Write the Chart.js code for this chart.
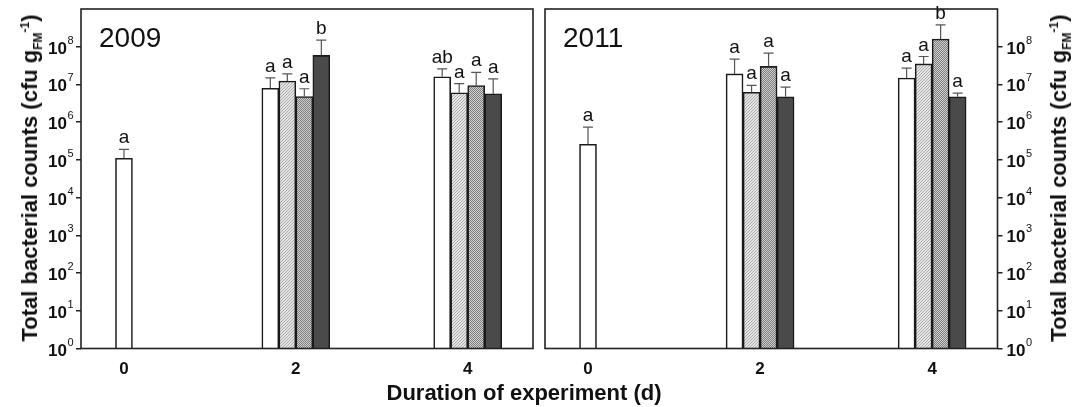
<!DOCTYPE html>
<html lang="en">

<head>
    <meta charset="UTF-8">
    <title>Total bacterial counts</title>
    <script src="https://cdn.jsdelivr.net/npm/chart.js"></script>
    <style>
        body { margin: 0; background: #fff; }
        .pagina {
            position: relative; width: 1073px; height: 407px; overflow: hidden;
            font-family: "Liberation Sans", Arial, sans-serif; color: #111;
        }
        #chart2009 { position: absolute; left: 0; top: 0; }
        #chart2011 { position: absolute; left: 539px; top: 0; }
        .tituloY {
            position: absolute; top: 178px; font-weight: bold; font-size: 22px; line-height: 22px;
            white-space: nowrap; transform: translate(-50%, -50%) rotate(-90deg);
        }
        .tituloY sub, .tituloY sup { font-size: 12px; line-height: 0; }
        .tituloX {
            position: absolute; left: 524px; top: 382px; font-weight: bold; font-size: 22px;
            line-height: 22px; white-space: nowrap; transform: translateX(-50%);
        }
    </style>
</head>

<body>
    <div class="pagina">
        <canvas id="chart2009" width="539" height="407"></canvas>
        <canvas id="chart2011" width="534" height="407"></canvas>
        <div class="tituloY" style="left:30px">Total bacterial counts (cfu g<sub>FM</sub><sup>-1</sup>)</div>
        <div class="tituloY" style="left:1059px">Total bacterial counts (cfu g<sub>FM</sub><sup>-1</sup>)</div>
        <div class="tituloX">Duration of experiment (d)</div>
    </div>

    <script>
        // eixos
        const dias = [0, 2, 4];
        const expoentes = [0, 1, 2, 3, 4, 5, 6, 7, 8];

        // 2009 - valores, topo da barra de erro e letras
        const branco2009 = [1.1e5, 7.9e6, 1.6e7];
        const hachura2009 = [null, 1.23e7, 6.0e6];
        const pontos2009 = [null, 4.8e6, 9.4e6];
        const escuro2009 = [null, 5.9e7, 5.6e6];
        const erroBranco2009 = [1.9e5, 1.5e7, 2.6e7];
        const erroHachura2009 = [null, 1.9e7, 1.05e7];
        const erroPontos2009 = [null, 7.7e6, 2.1e7];
        const erroEscuro2009 = [null, 1.5e8, 1.4e7];
        const letrasBranco2009 = ['a', 'a', 'ab'];
        const letrasHachura2009 = [null, 'a', 'a'];
        const letrasPontos2009 = [null, 'a', 'a'];
        const letrasEscuro2009 = [null, 'b', 'a'];

        // 2011
        const branco2011 = [2.6e5, 1.9e7, 1.48e7];
        const hachura2011 = [null, 6.2e6, 3.5e7];
        const pontos2011 = [null, 3.0e7, 1.6e8];
        const escuro2011 = [null, 4.7e6, 4.7e6];
        const erroBranco2011 = [7.4e5, 4.7e7, 2.7e7];
        const erroHachura2011 = [null, 9.4e6, 5.5e7];
        const erroPontos2011 = [null, 6.8e7, 3.8e8];
        const erroEscuro2011 = [null, 8.5e6, 5.9e6];
        const letrasBranco2011 = ['a', 'a', 'a'];
        const letrasHachura2011 = [null, 'a', 'a'];
        const letrasPontos2011 = [null, 'a', 'b'];
        const letrasEscuro2011 = [null, 'a', 'a'];

        Chart.defaults.font.family = "'Liberation Sans', Arial, sans-serif";
        Chart.defaults.color = '#111';

        // texturas das barras
        function criaTextura(tipo) {
            const c = document.createElement('canvas');
            const g = c.getContext('2d');
            if (tipo === 'hachura') {
                c.width = 3; c.height = 3;
                g.fillStyle = '#e4e4e4'; g.fillRect(0, 0, 3, 3);
                g.fillStyle = '#acacac';
                g.fillRect(2, 0, 1, 1); g.fillRect(1, 1, 1, 1); g.fillRect(0, 2, 1, 1);
            } else {
                c.width = 2; c.height = 2;
                g.fillStyle = '#cfcfcf'; g.fillRect(0, 0, 2, 2);
                g.fillStyle = '#7e7e7e';
                g.fillRect(0, 0, 1, 1); g.fillRect(1, 1, 1, 1);
            }
            return g.createPattern(c, 'repeat');
        }
        const texturaHachura = criaTextura('hachura');
        const texturaPontos = criaTextura('pontos');

        // barras de erro, letras, moldura, rótulos do eixo y e ano
        const painelPlugin = {
            id: 'painel',
            afterDatasetsDraw(chart) {
                const ctx = chart.ctx;
                const area = chart.chartArea;
                const y = chart.scales.y;
                ctx.save();
                chart.data.datasets.forEach((ds, di) => {
                    const meta = chart.getDatasetMeta(di);
                    meta.data.forEach((bar, i) => {
                        if (ds.data[i].y == null) return;
                        const topo = y.getPixelForValue(ds.erros[i]);
                        ctx.strokeStyle = '#555';
                        ctx.lineWidth = 1.2;
                        ctx.beginPath();
                        ctx.moveTo(bar.x, bar.y);
                        ctx.lineTo(bar.x, topo);
                        ctx.moveTo(bar.x - 5, topo);
                        ctx.lineTo(bar.x + 5, topo);
                        ctx.stroke();
                        ctx.fillStyle = '#111';
                        ctx.font = "19px 'Liberation Sans', Arial, sans-serif";
                        ctx.textAlign = 'center';
                        ctx.textBaseline = 'alphabetic';
                        ctx.fillText(ds.letras[i], bar.x, topo - 6);
                    });
                });
                ctx.strokeStyle = '#222';
                ctx.lineWidth = 1.6;
                ctx.strokeRect(area.left, area.top, area.right - area.left, area.bottom - area.top);
                ctx.restore();
            },
            afterDraw(chart, args, opts) {
                const ctx = chart.ctx;
                const area = chart.chartArea;
                const y = chart.scales.y;
                ctx.save();
                ctx.fillStyle = '#111';
                ctx.textBaseline = 'alphabetic';
                expoentes.forEach(e => {
                    const py = y.getPixelForValue(Math.pow(10, e));
                    ctx.font = "bold 17px 'Liberation Sans', Arial, sans-serif";
                    const w10 = ctx.measureText('10').width;
                    ctx.font = "11px 'Liberation Sans', Arial, sans-serif";
                    const wExp = ctx.measureText(String(e)).width;
                    let x0;
                    if (opts.lado === 'left') x0 = area.left - 8 - wExp - w10;
                    else x0 = area.right + 9;
                    ctx.font = "bold 17px 'Liberation Sans', Arial, sans-serif";
                    ctx.textAlign = 'left';
                    ctx.fillText('10', x0, py + 7);
                    ctx.font = "11px 'Liberation Sans', Arial, sans-serif";
                    ctx.fillText(String(e), x0 + w10 + 0.5, py - 3);
                });
                ctx.font = "28px 'Liberation Sans', Arial, sans-serif";
                ctx.textAlign = 'left';
                ctx.fillText(opts.ano, area.left + 18, area.top + 38);
                ctx.restore();
            }
        };

        function montaGrafico(id, ano, lado, valores, erros, letras, padding) {
            const cores = ['#ffffff', texturaHachura, texturaPontos, '#4a4a4a'];
            const datasets = valores.map((serie, s) => ({
                label: 'serie ' + (s + 1),
                data: dias.map((d, i) => ({ x: d, y: serie[i] })),
                erros: erros[s],
                letras: letras[s],
                backgroundColor: cores[s],
                borderColor: '#1a1a1a',
                borderWidth: 1.6,
                borderSkipped: 'bottom',
                barThickness: 17
            }));

            return new Chart(document.getElementById(id), {
                type: 'bar',
                data: { datasets },
                plugins: [painelPlugin],
                options: {
                    responsive: false,
                    animation: false,
                    skipNull: true,
                    layout: { padding },
                    plugins: {
                        legend: { display: false },
                        tooltip: { enabled: false },
                        painel: { ano, lado }
                    },
                    scales: {
                        x: {
                            type: 'linear',
                            min: -0.5,
                            max: 4.76,
                            offset: false,
                            afterBuildTicks: s => { s.ticks = dias.map(v => ({ value: v })); },
                            afterFit: s => { s.height = 30; },
                            grid: { display: false, drawTicks: false },
                            border: { display: false },
                            ticks: { padding: 11, color: '#111', font: { size: 17, weight: 'bold' } }
                        },
                        y: {
                            type: 'logarithmic',
                            position: lado,
                            min: 1,
                            max: 1e9,
                            afterBuildTicks: s => { s.ticks = expoentes.map(e => ({ value: Math.pow(10, e) })); },
                            afterFit: s => { s.width = 5; },
                            ticks: { display: false },
                            border: { display: false },
                            grid: { drawOnChartArea: false, drawTicks: true, tickLength: 5, color: '#222', lineWidth: 1.5 }
                        }
                    }
                }
            });
        }

        montaGrafico('chart2009', '2009', 'left',
            [branco2009, hachura2009, pontos2009, escuro2009],
            [erroBranco2009, erroHachura2009, erroPontos2009, erroEscuro2009],
            [letrasBranco2009, letrasHachura2009, letrasPontos2009, letrasEscuro2009],
            { left: 76, right: 6, top: 9, bottom: 28.5 });

        montaGrafico('chart2011', '2011', 'right',
            [branco2011, hachura2011, pontos2011, escuro2011],
            [erroBranco2011, erroHachura2011, erroPontos2011, erroEscuro2011],
            [letrasBranco2011, letrasHachura2011, letrasPontos2011, letrasEscuro2011],
            { left: 6, right: 70.5, top: 9, bottom: 28.5 });
    </script>
</body>

</html>
